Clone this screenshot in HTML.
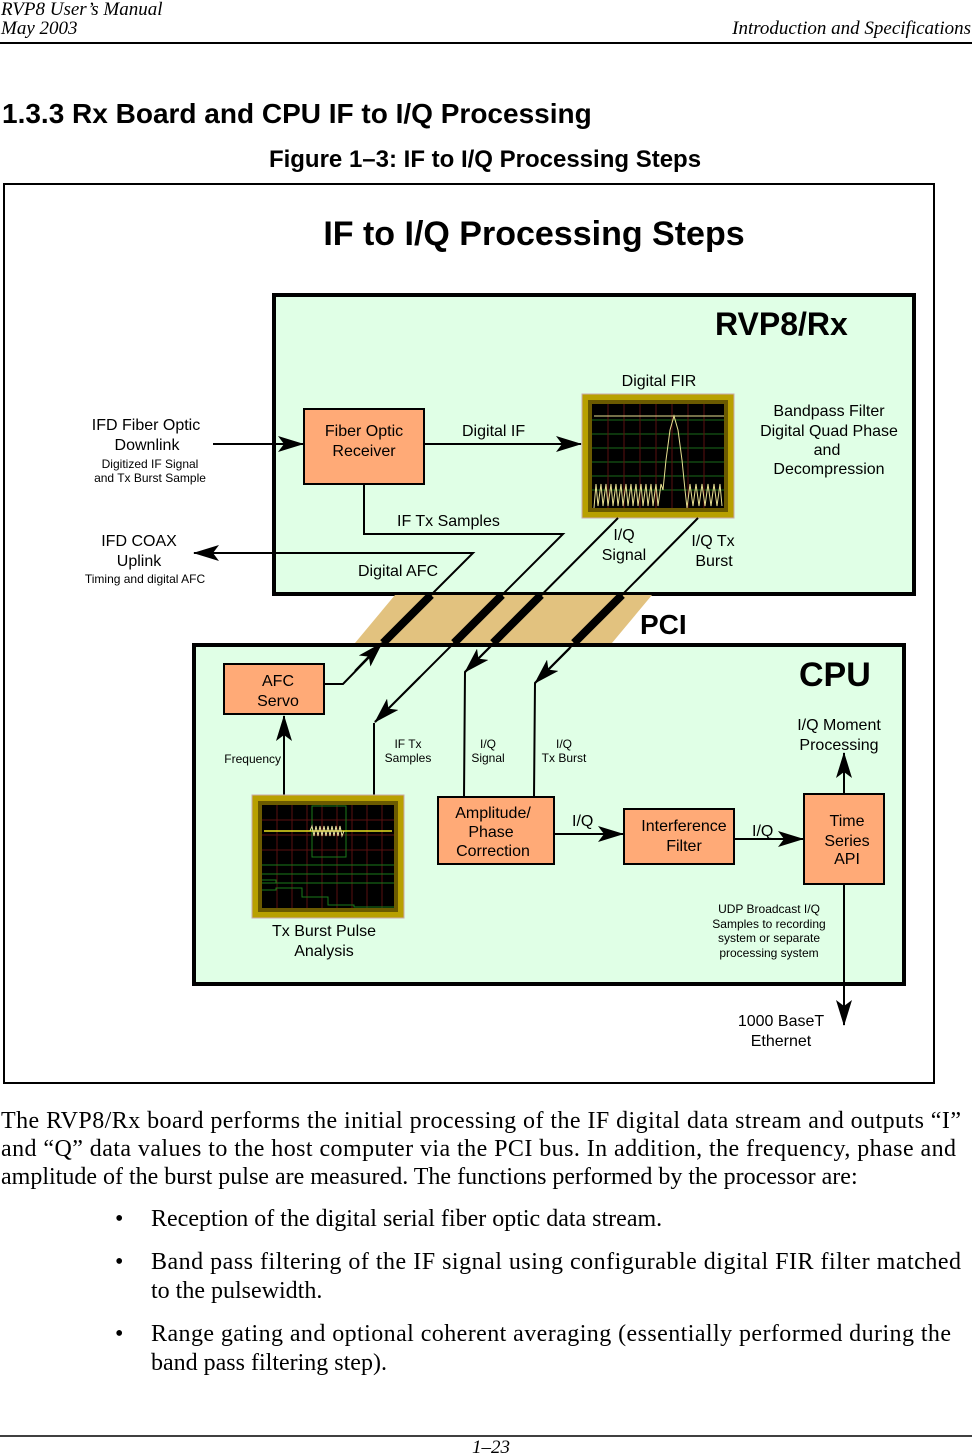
<!DOCTYPE html>
<html><head><meta charset="utf-8"><style>
html,body{margin:0;padding:0;background:#fff;}
svg{display:block;}
.s{font-family:"Liberation Sans",sans-serif;fill:#000;}
.t{font-family:"Liberation Serif",serif;fill:#000;}
</style></head><body>
<svg width="972" height="1456" viewBox="0 0 972 1456" xmlns="http://www.w3.org/2000/svg">
<defs>
<marker id="ah" markerWidth="12" markerHeight="10" refX="11" refY="5" orient="auto" markerUnits="userSpaceOnUse">
<path d="M0,0 L12,5 L0,10 L3,5 Z" fill="#000"/></marker>
<marker id="ah2" markerWidth="26" markerHeight="16" refX="25" refY="8" orient="auto" markerUnits="userSpaceOnUse">
<path d="M0,0 L26,8 L0,16 L6,8 Z" fill="#000"/></marker>
</defs>
<!-- header -->
<text class="t" x="1" y="15" font-size="19" font-style="italic">RVP8 User’s Manual</text>
<text class="t" x="1" y="34" font-size="19" font-style="italic">May 2003</text>
<text class="t" x="971" y="34" font-size="19" font-style="italic" text-anchor="end">Introduction and Specifications</text>
<line x1="0" y1="43" x2="972" y2="43" stroke="#000" stroke-width="2"/>
<text class="s" x="2" y="123" font-size="28" font-weight="bold">1.3.3  Rx Board and CPU IF to I/Q Processing</text>
<text class="s" x="485" y="167" font-size="24" font-weight="bold" text-anchor="middle">Figure 1–3: IF to I/Q Processing Steps</text>

<rect x="4" y="184" width="930" height="899" fill="#fff" stroke="#000" stroke-width="2"/>
<text class="s" x="534" y="245" font-size="34" font-weight="bold" text-anchor="middle">IF to I/Q Processing Steps</text>

<!-- RVP8 box -->
<rect x="274" y="295" width="640" height="299" fill="#e0ffe6" stroke="#000" stroke-width="4"/>
<text class="s" x="715" y="335" font-size="32" font-weight="bold">RVP8/Rx</text>
<!-- CPU box -->
<rect x="194" y="645" width="710" height="339" fill="#e0ffe6" stroke="#000" stroke-width="4"/>
<text class="s" x="799" y="686" font-size="34" font-weight="bold">CPU</text>
<!-- PCI -->
<polygon points="395,595 652,595 612,643 355,643" fill="#e2c27f"/>
<text class="s" x="640" y="634" font-size="28" font-weight="bold">PCI</text>

<!-- Fiber optic receiver -->
<rect x="304" y="409" width="120" height="75" fill="#ffaa77" stroke="#000" stroke-width="2"/>
<text class="s" x="364" y="436" font-size="16" text-anchor="middle">Fiber Optic</text>
<text class="s" x="364" y="456" font-size="16" text-anchor="middle">Receiver</text>
<line x1="213" y1="444" x2="303" y2="444" stroke="#000" stroke-width="2" marker-end="url(#ah2)"/>
<line x1="425" y1="444" x2="581" y2="444" stroke="#000" stroke-width="2" marker-end="url(#ah2)"/>
<text class="s" x="462" y="436" font-size="16">Digital IF</text>

<!-- FIR scope -->
<rect x="582" y="394" width="152" height="124" fill="#b8a000" stroke="#caa" stroke-width="1"/>
<rect x="588" y="400" width="140" height="112" fill="#6b5a00"/>
<rect x="592" y="404" width="132" height="104" fill="#000"/>
<g stroke="#1a6a1a" stroke-width="1">
<line x1="592" y1="420" x2="724" y2="420"/><line x1="592" y1="434" x2="724" y2="434"/><line x1="592" y1="448" x2="724" y2="448"/><line x1="592" y1="462" x2="724" y2="462"/><line x1="592" y1="476" x2="724" y2="476"/><line x1="592" y1="490" x2="724" y2="490"/>
</g>
<g stroke="#5a1010" stroke-width="1">
<line x1="608" y1="404" x2="608" y2="508"/><line x1="624" y1="404" x2="624" y2="508"/><line x1="640" y1="404" x2="640" y2="508"/><line x1="656" y1="404" x2="656" y2="508"/><line x1="672" y1="404" x2="672" y2="508"/><line x1="688" y1="404" x2="688" y2="508"/><line x1="704" y1="404" x2="704" y2="508"/>
</g>
<polyline fill="none" stroke="#e8e090" stroke-width="1" points="594,416 724,416 M0,0"/>
<polyline fill="none" stroke="#e8e090" stroke-width="1" points="594,508 596,484 598,506 601,484 603,506 606,484 608,506 611,484 613,506 616,484 618,506 621,484 623,506 626,484 628,506 631,484 633,506 636,484 638,506 641,484 643,506 646,484 648,506 651,484 653,506 656,484 658,506 661,484 663,490 666,460 670,430 674,416 678,430 682,460 685,490 687,508 690,484 693,506 696,484 699,506 702,484 705,506 708,484 711,506 714,484 717,506 720,484 722,506"/>

<!-- IF Tx samples path -->
<polyline fill="none" stroke="#000" stroke-width="2" points="364,484 364,534 563,534 375,722"/>
<line x1="374" y1="795" x2="374" y2="723" stroke="#000" stroke-width="2"/>
<line x1="420" y1="677" x2="375" y2="722" stroke="#000" stroke-width="2" marker-end="url(#ah2)"/>
<text class="s" x="397" y="526" font-size="16">IF Tx Samples</text>

<!-- Digital AFC path -->
<polyline fill="none" stroke="#000" stroke-width="2" points="195,553 473,553 373,653"/>
<line x1="230" y1="553" x2="194" y2="553" stroke="#000" stroke-width="2" marker-end="url(#ah2)"/>
<polyline fill="none" stroke="#000" stroke-width="2" points="325,684 343,684 382,644"/>
<line x1="355" y1="671" x2="382" y2="643" stroke="#000" stroke-width="2" marker-end="url(#ah2)"/>
<text class="s" x="358" y="576" font-size="16">Digital AFC</text>

<!-- I/Q signal -->
<polyline fill="none" stroke="#000" stroke-width="2" points="618,518 465,672 464,797"/>
<line x1="500" y1="637" x2="465" y2="672" stroke="#000" stroke-width="2" marker-end="url(#ah2)"/>
<!-- I/Q Tx burst -->
<polyline fill="none" stroke="#000" stroke-width="2" points="698,518 535,683 534,797"/>
<line x1="570" y1="648" x2="535" y2="683" stroke="#000" stroke-width="2" marker-end="url(#ah2)"/>

<!-- thick PCI stripes -->
<g stroke="#000" stroke-width="8">
<line x1="431" y1="595" x2="383" y2="643"/>
<line x1="502" y1="595" x2="454" y2="643"/>
<line x1="541" y1="595" x2="493" y2="643"/>
<line x1="622" y1="595" x2="574" y2="643"/>
</g>

<text class="s" x="624" y="540" font-size="16" text-anchor="middle">I/Q</text>
<text class="s" x="624" y="560" font-size="16" text-anchor="middle">Signal</text>
<text class="s" x="713" y="546" font-size="16" text-anchor="middle">I/Q Tx</text>
<text class="s" x="714" y="566" font-size="16" text-anchor="middle">Burst</text>
<text class="s" x="659" y="386" font-size="16" text-anchor="middle">Digital FIR</text>
<g font-size="16" text-anchor="middle" class="s">
<text class="s" x="829" y="416">Bandpass Filter</text>
<text class="s" x="829" y="436">Digital Quad Phase</text>
<text class="s" x="827" y="455">and</text>
<text class="s" x="829" y="474">Decompression</text>
</g>
<text class="s" x="146" y="430" font-size="16" text-anchor="middle">IFD Fiber Optic</text>
<text class="s" x="147" y="450" font-size="16" text-anchor="middle">Downlink</text>
<text class="s" x="150" y="468" font-size="12" text-anchor="middle">Digitized IF Signal</text>
<text class="s" x="150" y="482" font-size="12" text-anchor="middle">and Tx Burst Sample</text>
<text class="s" x="139" y="546" font-size="16" text-anchor="middle">IFD COAX</text>
<text class="s" x="139" y="566" font-size="16" text-anchor="middle">Uplink</text>
<text class="s" x="145" y="583" font-size="12" text-anchor="middle">Timing and digital AFC</text>

<!-- AFC Servo -->
<rect x="224" y="664" width="100" height="50" fill="#ffaa77" stroke="#000" stroke-width="2"/>
<text class="s" x="278" y="686" font-size="16" text-anchor="middle">AFC</text>
<text class="s" x="278" y="706" font-size="16" text-anchor="middle">Servo</text>
<line x1="284" y1="795" x2="284" y2="716" stroke="#000" stroke-width="2" marker-end="url(#ah2)"/>
<text class="s" x="281" y="763" font-size="12" text-anchor="end">Frequency</text>
<text class="s" x="408" y="748" font-size="12" text-anchor="middle">IF Tx</text>
<text class="s" x="408" y="762" font-size="12" text-anchor="middle">Samples</text>
<text class="s" x="488" y="748" font-size="12" text-anchor="middle">I/Q</text>
<text class="s" x="488" y="762" font-size="12" text-anchor="middle">Signal</text>
<text class="s" x="564" y="748" font-size="12" text-anchor="middle">I/Q</text>
<text class="s" x="564" y="762" font-size="12" text-anchor="middle">Tx Burst</text>

<!-- Tx burst scope -->
<rect x="252" y="795" width="152" height="123" fill="#b8a000" stroke="#caa" stroke-width="1"/>
<rect x="258" y="801" width="140" height="111" fill="#6b5a00"/>
<rect x="262" y="805" width="132" height="103" fill="#000"/>
<g stroke="#5a1010" stroke-width="1">
<line x1="277" y1="805" x2="277" y2="908"/><line x1="292" y1="805" x2="292" y2="908"/><line x1="307" y1="805" x2="307" y2="908"/><line x1="322" y1="805" x2="322" y2="908"/><line x1="337" y1="805" x2="337" y2="908"/><line x1="352" y1="805" x2="352" y2="908"/><line x1="367" y1="805" x2="367" y2="908"/><line x1="382" y1="805" x2="382" y2="908"/>
<line x1="262" y1="820" x2="394" y2="820"/><line x1="262" y1="835" x2="394" y2="835"/><line x1="262" y1="850" x2="394" y2="850"/>
</g>
<rect x="312" y="806" width="34" height="51" fill="none" stroke="#1a7a1a"/>
<g stroke="#1a7a1a" fill="none"><line x1="262" y1="865" x2="394" y2="865"/><line x1="262" y1="874" x2="394" y2="874"/><line x1="262" y1="883" x2="394" y2="883"/><polyline points="262,880 276,880 276,883 394,883"/><polyline points="262,890 276,890 276,888 302,888 302,897 328,897 328,905 354,905 354,907 394,907"/></g>
<line x1="264" y1="831" x2="392" y2="831" stroke="#e8e020" stroke-width="1.5"/>
<polyline fill="none" stroke="#e8e0a0" stroke-width="1" points="310,831 312,826 314,836 316,826 318,836 320,826 322,836 324,826 326,836 328,826 330,836 332,826 334,836 336,826 338,836 340,826 342,836 344,831"/>
<text class="s" x="324" y="936" font-size="16" text-anchor="middle">Tx Burst Pulse</text>
<text class="s" x="324" y="956" font-size="16" text-anchor="middle">Analysis</text>

<!-- Amplitude/Phase -->
<rect x="438" y="797" width="116" height="67" fill="#ffaa77" stroke="#000" stroke-width="2"/>
<text class="s" x="493" y="818" font-size="16" text-anchor="middle">Amplitude/</text>
<text class="s" x="491" y="837" font-size="16" text-anchor="middle">Phase</text>
<text class="s" x="493" y="856" font-size="16" text-anchor="middle">Correction</text>
<line x1="554" y1="834" x2="623" y2="834" stroke="#000" stroke-width="2" marker-end="url(#ah2)"/>
<text class="s" x="572" y="826" font-size="16">I/Q</text>
<!-- Interference -->
<rect x="624" y="809" width="110" height="55" fill="#ffaa77" stroke="#000" stroke-width="2"/>
<text class="s" x="684" y="831" font-size="16" text-anchor="middle">Interference</text>
<text class="s" x="684" y="851" font-size="16" text-anchor="middle">Filter</text>
<line x1="734" y1="839" x2="803" y2="839" stroke="#000" stroke-width="2" marker-end="url(#ah2)"/>
<text class="s" x="752" y="836" font-size="16">I/Q</text>
<!-- Time series -->
<rect x="804" y="794" width="80" height="90" fill="#ffaa77" stroke="#000" stroke-width="2"/>
<text class="s" x="847" y="826" font-size="16" text-anchor="middle">Time</text>
<text class="s" x="847" y="846" font-size="16" text-anchor="middle">Series</text>
<text class="s" x="847" y="864" font-size="16" text-anchor="middle">API</text>
<line x1="844" y1="794" x2="844" y2="753" stroke="#000" stroke-width="2" marker-end="url(#ah2)"/>
<line x1="844" y1="884" x2="844" y2="1025" stroke="#000" stroke-width="2" marker-end="url(#ah2)"/>
<text class="s" x="839" y="730" font-size="16" text-anchor="middle">I/Q Moment</text>
<text class="s" x="839" y="750" font-size="16" text-anchor="middle">Processing</text>
<text class="s" x="769" y="913" font-size="12" text-anchor="middle">UDP Broadcast I/Q</text>
<text class="s" x="769" y="928" font-size="12" text-anchor="middle">Samples to recording</text>
<text class="s" x="769" y="942" font-size="12" text-anchor="middle">system or separate</text>
<text class="s" x="769" y="957" font-size="12" text-anchor="middle">processing system</text>
<text class="s" x="781" y="1026" font-size="16" text-anchor="middle">1000 BaseT</text>
<text class="s" x="781" y="1046" font-size="16" text-anchor="middle">Ethernet</text>

<!-- body text -->
<g class="t" font-size="24">
<text class="t" x="1" y="1128" textLength="960">The RVP8/Rx board performs the initial processing of the IF digital data stream and outputs “I”</text>
<text class="t" x="1" y="1156" textLength="955">and “Q” data values to the host computer via the PCI bus. In addition, the frequency, phase and</text>
<text class="t" x="1" y="1184">amplitude of the burst pulse are measured. The functions performed by the processor are:</text>
<text class="t" x="115" y="1226">•</text>
<text class="t" x="151" y="1226">Reception of the digital serial fiber optic data stream.</text>
<text class="t" x="115" y="1269">•</text>
<text class="t" x="151" y="1269" textLength="810">Band pass filtering  of the IF signal using configurable digital FIR filter matched</text>
<text class="t" x="151" y="1298">to the pulsewidth.</text>
<text class="t" x="115" y="1341">•</text>
<text class="t" x="151" y="1341" textLength="800">Range gating and optional coherent averaging (essentially performed during the</text>
<text class="t" x="151" y="1370">band pass filtering step).</text>
</g>
<line x1="0" y1="1436" x2="972" y2="1436" stroke="#000" stroke-width="1.5"/>
<text class="t" x="491" y="1453" font-size="19" font-style="italic" text-anchor="middle">1–23</text>
</svg>
</body></html>
